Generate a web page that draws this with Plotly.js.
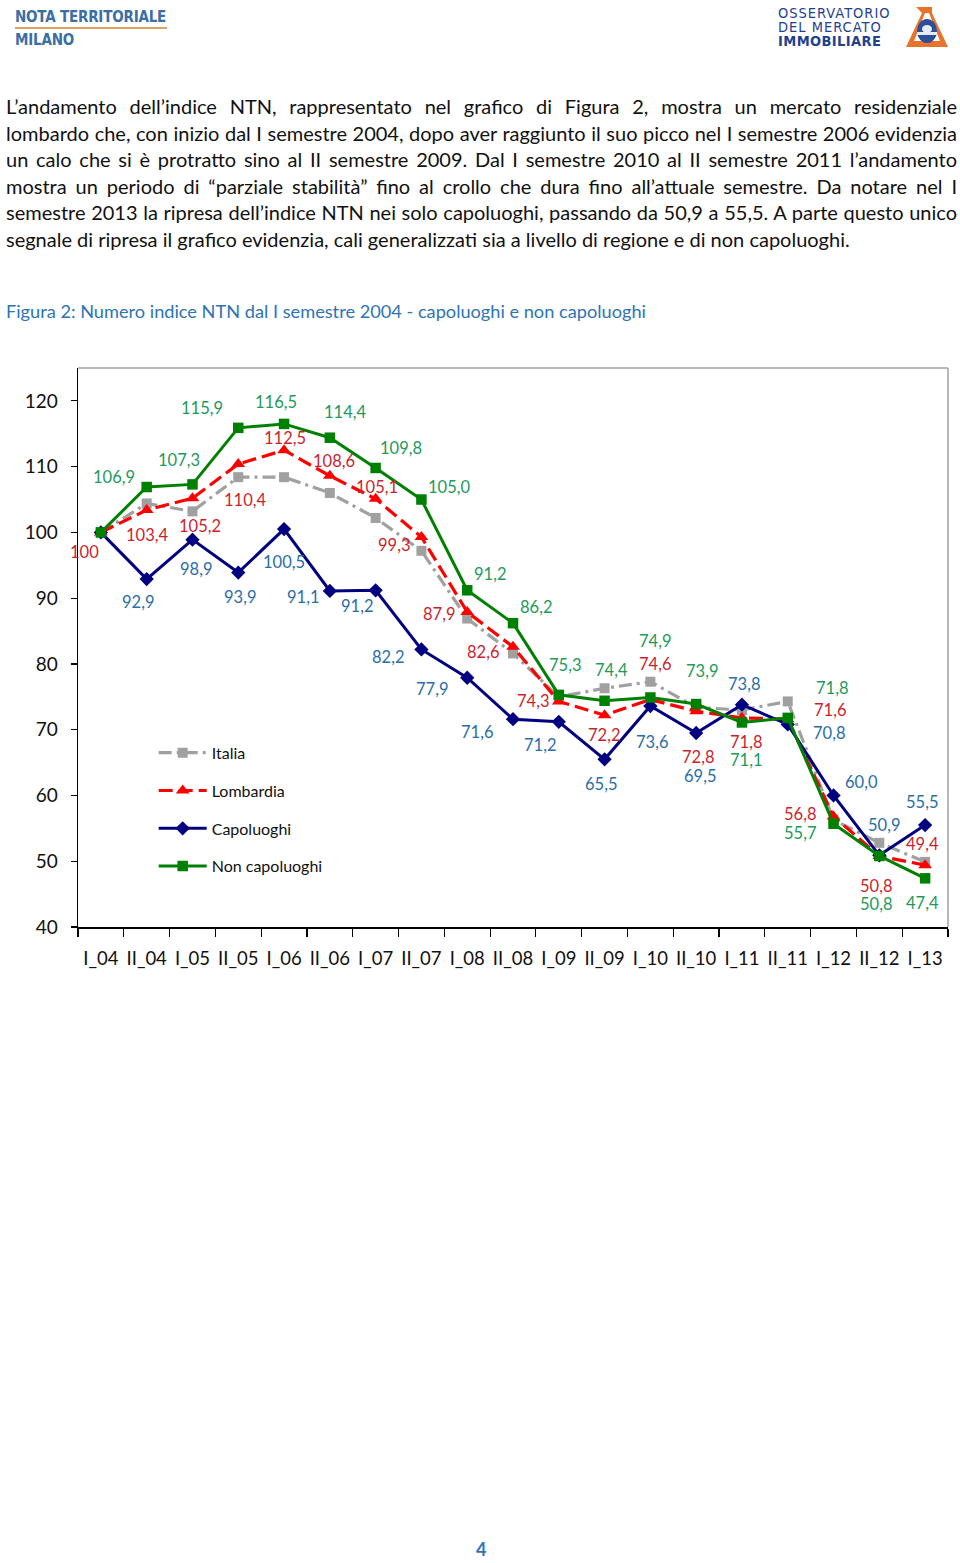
<!DOCTYPE html>
<html>
<head>
<meta charset="utf-8">
<script src="https://cdn.plot.ly/plotly-3.0.1.min.js"></script>
<style>
  html, body { margin:0; padding:0; background:#fff; }
  body { width:960px; height:1563px; position:relative; overflow:hidden; font-family: Lato, "Open Sans", sans-serif; }
  .hdr { position:absolute; left:15px; color:#3a6ea5; font-weight:700; font-size:15px; font-family:"Liberation Sans Narrow","DejaVu Sans Condensed",Lato,sans-serif; letter-spacing:-0.2px; }
  .uline { position:absolute; left:15px; top:27px; width:152px; height:2px; background:#e0a060; }
  .logo { position:absolute; left:778px; color:#1f3f8f; font-family:"Liberation Sans Narrow","DejaVu Sans Condensed",sans-serif; font-size:14.5px; line-height:14px; height:14px; letter-spacing:1px; white-space:nowrap; }
  .para { position:absolute; left:6px; top:93px; width:951px; font-size:20px; line-height:26.6px; color:#111; }
  .para div { text-align:justify; text-align-last:justify; white-space:nowrap; }
  .para div.last { text-align-last:left; }
  .cap { position:absolute; left:6px; top:300px; font-size:18.2px; color:#2e74b5; }
  .pnum { position:absolute; left:476px; top:1538px; font-size:18px; font-weight:700; color:#2e74b5; }
  #chart { position:absolute; left:0; top:340px; width:960px; height:660px; }
</style>
</head>
<body>
<div class="hdr" style="top:8px;">NOTA TERRITORIALE</div>
<div class="uline"></div>
<div class="hdr" style="top:31px;">MILANO</div>
<div class="logo" style="top:6px;">OSSERVATORIO</div>
<div class="logo" style="top:20px;">DEL MERCATO</div>
<div class="logo" style="top:34px;font-weight:700;letter-spacing:0.4px;">IMMOBILIARE</div>
<svg style="position:absolute;left:902px;top:5px" width="50" height="44" viewBox="0 0 50 44">
  <path d="M14 2 L30 2 L30 8 L20 8 Z" fill="#e8742c"/>
  <path d="M20 8 L4 42 L46 42 L30 8 L27 8 L38 36 L12 36 L23 8 Z" fill="#e8742c"/>
  <ellipse cx="25" cy="26" rx="10" ry="12" fill="#2c4f9a"/>
  <ellipse cx="25" cy="24" rx="5" ry="4" fill="#e6ecf5"/>
  <rect x="15" y="27" width="20" height="3" fill="#e6ecf5"/>
</svg>

<div class="para">
  <div>L’andamento dell’indice NTN, rappresentato nel grafico di Figura 2, mostra un mercato residenziale</div>
  <div>lombardo che, con inizio dal I semestre 2004, dopo aver raggiunto il suo picco nel I semestre 2006 evidenzia</div>
  <div>un calo che si è protratto sino al II semestre 2009. Dal I semestre 2010 al II semestre 2011 l’andamento</div>
  <div>mostra un periodo di “parziale stabilità” fino al crollo che dura fino all’attuale semestre. Da notare nel I</div>
  <div>semestre 2013 la ripresa dell’indice NTN nei solo capoluoghi, passando da 50,9 a 55,5. A parte questo unico</div>
  <div class="last">segnale di ripresa il grafico evidenzia, cali generalizzati sia a livello di regione e di non capoluoghi.</div>
</div>
<div class="cap">Figura 2: Numero indice NTN dal I semestre 2004 - capoluoghi e non capoluoghi</div>
<div id="chart"></div>
<div class="pnum">4</div>

<script>
// ---- data ----
const categories = ["I_04","II_04","I_05","II_05","I_06","II_06","I_07","II_07","I_08","II_08","I_09","II_09","I_10","II_10","I_11","II_11","I_12","II_12","I_13"];
const italia      = [100,104.4,103.2,108.4,108.4,106.0,102.2,97.2,86.9,81.6,75.0,76.3,77.3,73.4,73.0,74.3,56.3,52.8,49.9];
const lombardia   = [100,103.4,105.2,110.4,112.5,108.6,105.1,99.3,87.9,82.6,74.3,72.2,74.6,72.8,71.8,71.6,56.8,50.8,49.4];
const capoluoghi  = [100,92.9,98.9,93.9,100.5,91.1,91.2,82.2,77.9,71.6,71.2,65.5,73.6,69.5,73.8,70.8,60.0,50.9,55.5];
const nonCapoluoghi = [100,106.9,107.3,115.9,116.5,114.4,109.8,105.0,91.2,86.2,75.3,74.4,74.9,73.9,71.1,71.8,55.7,50.8,47.4];
const seriesNames = ["Italia","Lombardia","Capoluoghi","Non capoluoghi"];
const yTicks = [40,50,60,70,80,90,100,110,120];

// ---- label placement (pixel offsets from each point: [dx, dy-down]) ----
const redOff = [[-16,20],[0,25],[8,28],[7,36],[1,-12],[4,-15],[1,-12],[-27,8],[-28,2],[-30,5],[-26,0],[-1,20],[5,-35],[2,46],[4,24],[42,-9],[-34,-3],[-3,30],[-3,-21]];
const blueOff = [null,[-9,23],[4,29],[2,24],[0,33],[-27,6],[-19,16],[-33,8],[-35,11],[-36,13],[-19,23],[-4,25],[2,36],[4,43],[2,-21],[41,9],[28,-13],[5,-30],[-3,-23]];
const greenOff = [null,[-33,-10],[-13,-24],[-36,-20],[-8,-22],[15,-26],[25,-20],[28,-13],[23,-16],[23,-16],[6,-30],[7,-31],[5,-56],[6,-33],[4,38],[44,-30],[-34,9],[-3,48],[-3,25]];

const FONT = "Lato, 'Open Sans', sans-serif";
const fmt = (v, i) => (i === 0 ? String(v) : v.toFixed(1).replace('.', ','));

function labels(vals, offs, color) {
  const out = [];
  vals.forEach((v, i) => {
    const o = offs[i];
    if (!o) return;
    out.push({x: categories[i], y: v, xref:'x', yref:'y', text: fmt(v, i), showarrow:false,
      xshift:o[0], yshift:-o[1], font:{family:FONT, size:16.5, color:color}});
  });
  return out;
}

const traces = [
  {x:categories, y:italia, name:seriesNames[0], mode:'lines+markers', legendgroup:'a',
   line:{color:'#a0a0a0', width:3.2, dash:'13px,5px,3px,5px'}, marker:{symbol:'square', size:10, color:'#a0a0a0'}},
  {x:categories, y:lombardia, name:seriesNames[1], mode:'lines+markers', legendgroup:'b',
   line:{color:'#ff0000', width:3.2, dash:'14px,6px'}, marker:{symbol:'triangle-up', size:12, color:'#ff0000'}},
  {x:categories, y:capoluoghi, name:seriesNames[2], mode:'lines+markers', legendgroup:'c',
   line:{color:'#000080', width:3}, marker:{symbol:'diamond', size:11, color:'#000080'}},
  {x:categories, y:nonCapoluoghi, name:seriesNames[3], mode:'lines+markers', legendgroup:'d',
   line:{color:'#008000', width:3}, marker:{symbol:'square', size:10.5, color:'#008000'}}
];

const layout = {
  width:960, height:660,
  margin:{l:78, r:12, t:28, b:73},
  paper_bgcolor:'#fff', plot_bgcolor:'#fff',
  showlegend:true,
  legend:{x:0.087, y:0.342, xanchor:'left', yanchor:'top', bgcolor:'rgba(0,0,0,0)',
    font:{family:FONT, size:16, color:'#111'}, tracegroupgap:14, itemwidth:48, traceorder:'grouped'},
  xaxis:{type:'category', range:[-0.5,18.5], showline:true, linecolor:'#000', linewidth:1.5,
    ticks:'outside', tickson:'boundaries', ticklen:8, tickcolor:'#000', tickwidth:1.2,
    showgrid:false, zeroline:false, ticklabelstandoff:14, tickangle:0,
    tickfont:{family:FONT, size:18.5, color:'#111'}},
  yaxis:{range:[40,125], tickvals:yTicks, ticktext:yTicks.map(String), showline:true, linecolor:'#000', linewidth:1.5,
    ticks:'outside', ticklen:6, tickcolor:'#000', tickwidth:1.2, showgrid:false, zeroline:false, ticklabelstandoff:9,
    tickfont:{family:FONT, size:19, color:'#111'}},
  shapes:[
    {type:'line', xref:'paper', yref:'paper', x0:0, x1:1, y0:1, y1:1, line:{color:'#a0a0a0', width:1.5}},
    {type:'line', xref:'paper', yref:'paper', x0:1, x1:1, y0:0, y1:1, line:{color:'#a0a0a0', width:1.5}}
  ],
  annotations: [].concat(
    labels(nonCapoluoghi, greenOff, '#1e9a5c'),
    labels(lombardia, redOff, '#cc1f2e'),
    labels(capoluoghi, blueOff, '#2a6ea8')
  )
};

Plotly.newPlot('chart', traces, layout, {staticPlot:true, displayModeBar:false});
</script>
</body>
</html>
